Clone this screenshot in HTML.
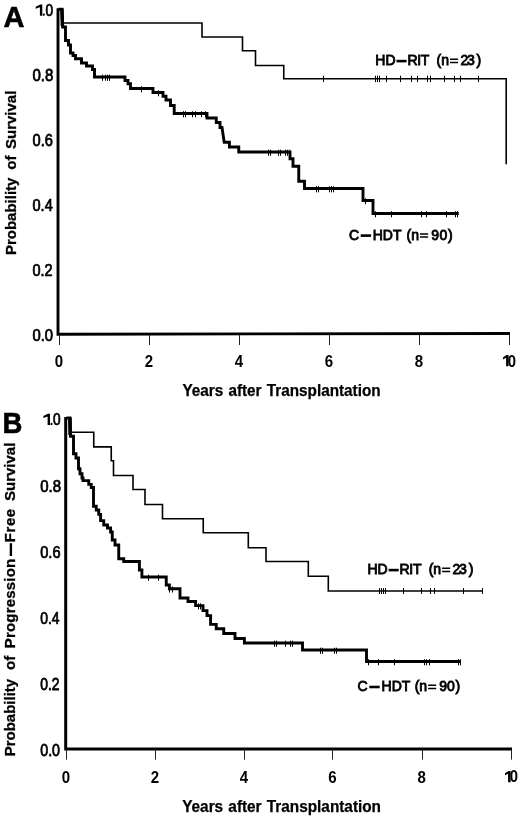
<!DOCTYPE html>
<html><head><meta charset="utf-8"><title>Figure</title>
<style>
html,body{margin:0;padding:0;background:#fff;}
body{width:520px;height:819px;overflow:hidden;}
svg{display:block;will-change:transform;}
text{font-family:"Liberation Sans",sans-serif;fill:#000;}
</style></head><body>
<svg width="520" height="819" viewBox="0 0 520 819">
<rect width="520" height="819" fill="#fff"/>

<g fill="none" stroke="#000" stroke-linejoin="miter" stroke-linecap="butt">
<path d="M58,8.3V334.2L510,333.5" stroke-width="2.9" stroke-linejoin="miter"/>
<path d="M59.5,335V345 M149.5,335V345 M239.5,335V345 M329.5,335V345 M419.5,335V345 M509.5,335V345" stroke-width="1" stroke="#222"/>
<path d="M58.5,9.3 L62,9.3 L62.6,27 L65.5,27 L65.5,40.5 L68.5,40.5 L68.5,45 L70.5,45 L70.5,53 L73,53 L73,55.5 L75.5,55.5 L75.5,58.75 L81.5,58.75 L81.5,63 L86.5,63 L86.5,66 L92.5,66 L92.5,69.5 L94.5,69.5 L94.5,77 L125,77 L125,80.5 L128,80.5 L128,83.75 L130.5,83.75 L130.5,88.5 L153,88.5 L153,92.5 L163,92.5 L163,96.25 L166,96.25 L166,100 L170.5,100 L170.5,105.5 L174.2,105.5 L174.2,113.5 L207,113.5 L207,118 L216.25,118 L216.25,122.5 L220,122.5 L220,127.5 L222,127.5 L224.2,142.25 L229.4,142.25 L229.4,147 L238.75,147 L238.75,152 L290,152 L290,158.75 L293,158.75 L293,166.25 L298.75,166.25 L298.75,181.25 L304.5,181.25 L304.5,188.5 L363,188.5 L363,200.5 L373,200.5 L373,213.5 L458.75,213.5" stroke-width="2.9"/>
<path d="M61.9,8.5L62.4,26" stroke-width="3.5"/>
<path d="M102.5,74.7V80.8 M105.5,74.7V80.8 M107.5,74.7V80.8 M109.5,74.7V80.8 M141.5,86.2V92.3 M158.5,90.2V96.3 M183.5,111.2V117.3 M185.5,111.2V117.3 M192.5,111.2V117.3 M195.5,111.2V117.3 M201.5,111.2V117.3 M205.5,111.2V117.3 M268.5,149.7V155.8 M270.5,149.7V155.8 M278.5,149.7V155.8 M280.5,149.7V155.8 M285.5,149.7V155.8 M287.5,149.7V155.8 M289.5,149.7V155.8 M316.5,186.2V192.3 M318.5,186.2V192.3 M329.5,186.2V192.3 M331.5,186.2V192.3 M333.5,186.2V192.3 M365.5,198.2V204.3 M375.5,211.2V217.3 M391.5,211.2V217.3 M421.5,211.2V217.3 M426.5,211.2V217.3 M446.5,211.2V217.3 M455.5,211.2V217.3 M457.5,211.2V217.3" stroke-width="1"/>
<path d="M62.5,23 L202,23 L202,37 L242.5,37 L242.5,50.75 L255.5,50.75 L255.5,65.5 L283.75,65.5 L283.75,78.7 L506.2,78.7 L506.2,164.3" stroke-width="1.6"/>
<path d="M323.5,75.7V82.1 M375.5,75.7V82.1 M377.5,75.7V82.1 M379.5,75.7V82.1 M386.5,75.7V82.1 M400.5,75.7V82.1 M411.5,75.7V82.1 M417.5,75.7V82.1 M427.5,75.7V82.1 M430.5,75.7V82.1 M444.5,75.7V82.1 M454.5,75.7V82.1 M460.5,75.7V82.1 M478.5,75.7V82.1" stroke-width="1"/>
<path d="M65.7,417V748.9H512" stroke-width="3"/>
<path d="M66.5,749.5V759.6 M155.5,749.5V759.6 M244.5,749.5V759.6 M332.5,749.5V759.6 M422.5,749.5V759.6 M511.5,749.5V759.6" stroke-width="1" stroke="#222"/>
<path d="M66.5,418 L70,418 L70.5,436.25 L73.5,436.25 L73.5,453.75 L76,453.75 L76,458 L78.5,458 L78.5,468.75 L80,468.75 L80,473.75 L82,473.75 L82,478 L83,478 L83,480.6 L88.75,480.6 L88.75,484.4 L91.25,484.4 L91.25,487.5 L93.5,487.5 L93.5,506.25 L96.25,506.25 L96.25,510 L98.75,510 L98.75,514.4 L100.6,514.4 L100.6,520.6 L103.75,520.6 L103.75,525 L107.5,525 L107.5,528 L110.6,528 L110.6,532 L112.25,532 L112.25,540 L115,540 L115,545 L118.75,545 L118.75,558.75 L123.75,558.75 L123.75,561.5 L139.4,561.5 L139.4,570 L141.9,570 L141.9,577 L166.25,577 L166.25,585 L169.4,585 L169.4,588.75 L180,588.75 L180,598 L188,598 L188,601.5 L195.6,601.5 L195.6,605.6 L203,605.6 L203,610.6 L207,610.6 L207,615.6 L210.6,615.6 L210.6,624.4 L216.25,624.4 L216.25,628.75 L223.75,628.75 L223.75,633.5 L235,633.5 L235,638.5 L244.4,638.5 L244.4,643 L302.5,643 L302.5,650 L366.5,650 L366.5,661.5 L460.7,661.5" stroke-width="2.9"/>
<path d="M69.9,417.5L70.2,435" stroke-width="3.7"/>
<path d="M148.5,574.7V580.8 M158.5,574.7V580.8 M169.5,586.45V592.55 M172.5,586.45V592.55 M198.5,603.3V609.4 M200.5,603.3V609.4 M274.5,640.7V646.8 M276.5,640.7V646.8 M285.5,640.7V646.8 M290.5,640.7V646.8 M292.5,640.7V646.8 M320.5,647.7V653.8 M322.5,647.7V653.8 M334.5,647.7V653.8 M336.5,647.7V653.8 M368.5,659.2V665.3 M378.5,659.2V665.3 M394.5,659.2V665.3 M424.5,659.2V665.3 M426.5,659.2V665.3 M429.5,659.2V665.3 M458.5,659.2V665.3 M460.5,659.2V665.3" stroke-width="1"/>
<path d="M70.5,432.25 L93.75,432.25 L93.75,446.9 L111.25,446.9 L111.25,460.7 L113.5,460.7 L113.5,475.5 L133,475.5 L133,489.5 L145,489.5 L145,504.5 L162.5,504.5 L162.5,518.75 L203.25,518.75 L203.25,532.75 L248.3,532.75 L248.3,547.7 L266,547.7 L266,561.5 L308.3,561.5 L308.3,576.3 L328.3,576.3 L328.3,591 L482,591" stroke-width="1.6"/>
<path d="M379.5,588.1V594 M381.5,588.1V594 M383.5,588.1V594 M385.5,588.1V594 M403.5,588.1V594 M421.5,588.1V594 M430.5,588.1V594 M434.5,588.1V594 M463.5,588.1V594 M482.5,588.1V594" stroke-width="1"/>
</g>
<text transform="translate(3.4,26.6) scale(1,1)" font-size="29" font-weight="bold" stroke="#000" stroke-width="0.6">A</text>
<text transform="translate(2.6,433) scale(0.95,1)" font-size="29" font-weight="bold" stroke="#000" stroke-width="0.6">B</text>
<text transform="translate(32.5107,80.7) scale(0.940476,1)" font-size="16" stroke="#000" stroke-width="0.75">0.8</text>
<text transform="translate(32.5252,145.7) scale(0.916268,1)" font-size="16" stroke="#000" stroke-width="0.75">0.6</text>
<text transform="translate(32.5302,210.7) scale(0.908019,1)" font-size="16" stroke="#000" stroke-width="0.75">0.4</text>
<text transform="translate(32.5312,275.7) scale(0.90625,1)" font-size="16" stroke="#000" stroke-width="0.75">0.2</text>
<text transform="translate(32.5193,340.7) scale(0.92619,1)" font-size="16" stroke="#000" stroke-width="0.75">0.0</text>
<text transform="translate(53,15.7) scale(0.85,1)" font-size="16" text-anchor="end" stroke="#000" stroke-width="0.75">0</text>
<path d="M42.3,15.7V4.5H40.2L35.7,6.8V8.8L39.9,7.2V15.7Z" fill="#000"/>
<rect x="42.9" y="13.6" width="1.8" height="2.1"/>
<text transform="translate(40.2136,492.1) scale(0.935714,1)" font-size="16" stroke="#000" stroke-width="0.75">0.8</text>
<text transform="translate(40.2281,558.2) scale(0.911483,1)" font-size="16" stroke="#000" stroke-width="0.75">0.6</text>
<text transform="translate(40.2528,623.8) scale(0.870283,1)" font-size="16" stroke="#000" stroke-width="0.75">0.4</text>
<text transform="translate(40.2543,690) scale(0.867788,1)" font-size="16" stroke="#000" stroke-width="0.75">0.2</text>
<text transform="translate(40.2421,755.7) scale(0.888095,1)" font-size="16" stroke="#000" stroke-width="0.75">0.0</text>
<text transform="translate(60.5,425) scale(0.85,1)" font-size="16" text-anchor="end" stroke="#000" stroke-width="0.75">0</text>
<path d="M50,425V413.8H47.9L43.4,416.1V418.1L47.6,416.5V425Z" fill="#000"/>
<rect x="50.6" y="422.9" width="1.8" height="2.1"/>
<text transform="translate(59,367) scale(0.94,1)" font-size="16" text-anchor="middle" font-weight="bold">0</text>
<text transform="translate(149,367) scale(0.94,1)" font-size="16" text-anchor="middle" font-weight="bold">2</text>
<text transform="translate(239,367) scale(0.94,1)" font-size="16" text-anchor="middle" font-weight="bold">4</text>
<text transform="translate(329,367) scale(0.94,1)" font-size="16" text-anchor="middle" font-weight="bold">6</text>
<text transform="translate(419,367) scale(0.94,1)" font-size="16" text-anchor="middle" font-weight="bold">8</text>
<text transform="translate(516.1,366.5) scale(0.93,1)" font-size="16" text-anchor="end" font-weight="bold">0</text>
<path d="M508.6,366.3V355.1H506.4L503,357.4V359.4L506.1,357.8V366.3Z" fill="#000"/>
<text transform="translate(65.9,782.5) scale(0.94,1)" font-size="16" text-anchor="middle" font-weight="bold">0</text>
<text transform="translate(155,782.5) scale(0.94,1)" font-size="16" text-anchor="middle" font-weight="bold">2</text>
<text transform="translate(244,782.5) scale(0.94,1)" font-size="16" text-anchor="middle" font-weight="bold">4</text>
<text transform="translate(332.5,782.5) scale(0.94,1)" font-size="16" text-anchor="middle" font-weight="bold">6</text>
<text transform="translate(421.7,782.5) scale(0.94,1)" font-size="16" text-anchor="middle" font-weight="bold">8</text>
<text transform="translate(518.1,782.4) scale(0.93,1)" font-size="16" text-anchor="end" font-weight="bold">0</text>
<path d="M510.6,782.2V771H508.4L505,773.3V775.3L508.1,773.7V782.2Z" fill="#000"/>
<text font-weight="bold" stroke="#000" stroke-width="0.25" x="182.4" y="395.5" font-size="16" word-spacing="1" textLength="198.2" lengthAdjust="spacingAndGlyphs">Years after Transplantation</text>
<text font-weight="bold" stroke="#000" stroke-width="0.25" x="182.2" y="812" font-size="16" word-spacing="1" textLength="198.8" lengthAdjust="spacingAndGlyphs">Years after Transplantation</text>
<text font-weight="bold" font-size="15" stroke="#000" stroke-width="0.3" transform="translate(15.9,255.1) rotate(-90)">Probability</text>
<text font-weight="bold" font-size="15" stroke="#000" stroke-width="0.3" transform="translate(15.9,169.7) rotate(-90)">of</text>
<text font-weight="bold" font-size="15" stroke="#000" stroke-width="0.3" transform="translate(15.9,149) rotate(-90)">Survival</text>
<text font-weight="bold" font-size="15" stroke="#000" stroke-width="0.3" transform="translate(15.3,756.3) rotate(-90)">Probability</text>
<text font-weight="bold" font-size="15" stroke="#000" stroke-width="0.3" transform="translate(15.3,670) rotate(-90)">of</text>
<text letter-spacing="0.2" font-weight="bold" font-size="15" stroke="#000" stroke-width="0.3" transform="translate(15.3,648.3) rotate(-90)">Progression</text>
<rect x="9.7" y="543.2" width="2.4" height="12.8"/>
<text letter-spacing="0.6" font-weight="bold" font-size="15" stroke="#000" stroke-width="0.3" transform="translate(15.3,542.3) rotate(-90)">Free</text>
<text font-weight="bold" font-size="15" stroke="#000" stroke-width="0.3" transform="translate(15.3,501) rotate(-90)">Survival</text>
<text x="375.3" y="65" font-size="14" stroke="#000" stroke-width="0.85">HD</text>
<rect x="396.5" y="59.8" width="10.1" height="2.6"/>
<text x="407.4" y="65" font-size="14" stroke="#000" stroke-width="0.85" letter-spacing="-0.3">RIT</text>
<text x="436.6" y="65" font-size="14" stroke="#000" stroke-width="0.85">(n</text>
<path d="M450,59.3H458.1M450,62.5H458.1" stroke="#000" stroke-width="1.5" fill="none"/>
<text x="460.4" y="65" font-size="14" stroke="#000" stroke-width="0.85">2</text>
<text x="467" y="65" font-size="14" stroke="#000" stroke-width="0.85">3</text>
<text x="476.6" y="65" font-size="14" stroke="#000" stroke-width="0.85">)</text>
<text x="349" y="239.6" font-size="14" stroke="#000" stroke-width="0.85">C</text>
<rect x="360.7" y="234.3" width="10.4" height="2.6"/>
<text x="372.7" y="239.6" font-size="14" stroke="#000" stroke-width="0.85">HDT</text>
<text x="406.6" y="239.6" font-size="14" stroke="#000" stroke-width="0.85">(n</text>
<path d="M420,233.9H428.1M420,237.1H428.1" stroke="#000" stroke-width="1.5" fill="none"/>
<text x="431.3" y="239.6" font-size="14" stroke="#000" stroke-width="0.85">9</text>
<text x="439.4" y="239.6" font-size="14" stroke="#000" stroke-width="0.85">0</text>
<text x="448" y="239.6" font-size="14" stroke="#000" stroke-width="0.85">)</text>
<text x="367.4" y="574" font-size="14" stroke="#000" stroke-width="0.85">HD</text>
<rect x="388.6" y="568.8" width="10.1" height="2.6"/>
<text x="399.5" y="574" font-size="14" stroke="#000" stroke-width="0.85" letter-spacing="-0.3">RIT</text>
<text x="428.7" y="574" font-size="14" stroke="#000" stroke-width="0.85">(n</text>
<path d="M442.1,568.3H450.2M442.1,571.5H450.2" stroke="#000" stroke-width="1.5" fill="none"/>
<text x="452.5" y="574" font-size="14" stroke="#000" stroke-width="0.85">2</text>
<text x="459.1" y="574" font-size="14" stroke="#000" stroke-width="0.85">3</text>
<text x="468.7" y="574" font-size="14" stroke="#000" stroke-width="0.85">)</text>
<text x="357.6" y="691" font-size="14" stroke="#000" stroke-width="0.85">C</text>
<rect x="369.3" y="685.7" width="10.4" height="2.6"/>
<text x="381.6" y="691" font-size="14" stroke="#000" stroke-width="0.85">HDT</text>
<text x="414.7" y="691" font-size="14" stroke="#000" stroke-width="0.85">(n</text>
<path d="M428.1,685.3H436.2M428.1,688.5H436.2" stroke="#000" stroke-width="1.5" fill="none"/>
<text x="439.3" y="691" font-size="14" stroke="#000" stroke-width="0.85">9</text>
<text x="447" y="691" font-size="14" stroke="#000" stroke-width="0.85">0</text>
<text x="455.4" y="691" font-size="14" stroke="#000" stroke-width="0.85">)</text>
</svg></body></html>
